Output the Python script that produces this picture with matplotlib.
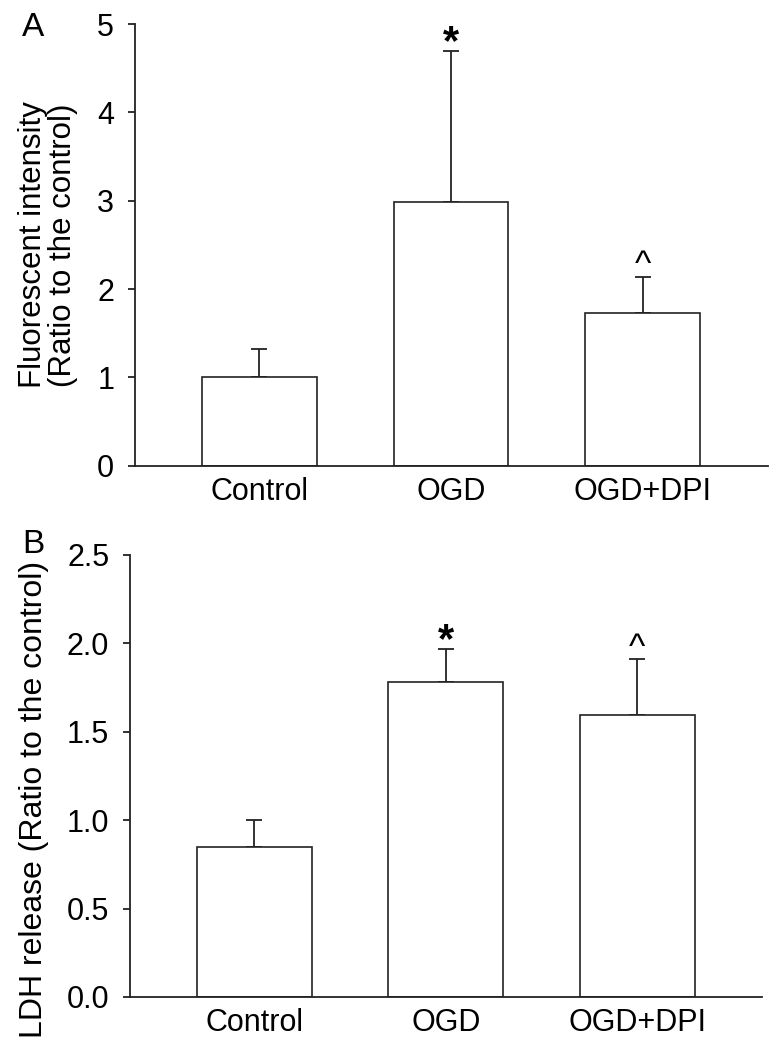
import matplotlib
matplotlib.use("Agg")
import matplotlib.pyplot as plt

plt.rcParams['font.family'] = ['Liberation Sans', 'DejaVu Sans']

groups = ["Control", "OGD", "OGD+DPI"]

# panel A: fluorescent intensity
fluor_mean = [1.00, 2.98, 1.73]
fluor_err = [0.32, 1.72, 0.41]
fluor_marks = ["", "*", "^"]

# panel B: LDH release
ldh_mean = [0.85, 1.78, 1.595]
ldh_err = [0.15, 0.19, 0.315]
ldh_marks = ["", "*", "^"]


def bar_panel(ax, means, errs, marks, yticks, ylim, fmt):
    x = range(len(groups))
    ax.bar(x, means, width=0.6, color="white", edgecolor="#222222",
           linewidth=1.2, zorder=2)
    ax.errorbar(x, means, yerr=[[0] * len(errs), errs], fmt="none",
                ecolor="#222222", elinewidth=1.3, capsize=6, capthick=1.3,
                zorder=1)
    span = ylim[1] - ylim[0]
    for xi, m, e, s in zip(x, means, errs, marks):
        if s == "*":
            ax.text(xi, m + e - 0.028 * span, s, ha="center", va="bottom",
                    fontsize=30, fontweight="bold")
        elif s == "^":
            ax.text(xi, m + e - 0.012 * span, s, ha="center", va="bottom",
                    fontsize=25)
    ax.set_xlim(-0.65, 2.655)
    ax.set_ylim(*ylim)
    ax.set_yticks(yticks)
    ax.set_yticklabels([fmt.format(t) for t in yticks])
    ax.set_xticks(list(x))
    ax.set_xticklabels(groups)
    for side in ["top", "right"]:
        ax.spines[side].set_visible(False)
    for side in ["left", "bottom"]:
        ax.spines[side].set_linewidth(1.3)
        ax.spines[side].set_color("#222222")
    ax.tick_params(axis="y", direction="out", length=5, width=1.3,
                   labelsize=22, pad=10, color="#222222")
    ax.tick_params(axis="x", length=0, labelsize=22, pad=8)


fig = plt.figure(figsize=(7.83, 10.5), dpi=100)

ax1 = fig.add_axes([0.1724, 0.5565, 0.8084, 0.4206])
bar_panel(ax1, fluor_mean, fluor_err, fluor_marks, [0, 1, 2, 3, 4, 5],
          (0, 5), "{:.0f}")
ax1.text(-0.138, 0.5, "Fluorescent intensity\n(Ratio to the control)",
         transform=ax1.transAxes, rotation=90, ha="center", va="center",
         fontsize=22.5, linespacing=1.0)
fig.text(0.028, 0.989, "A", fontsize=24, ha="left", va="top")

ax2 = fig.add_axes([0.166, 0.0505, 0.8078, 0.421])
bar_panel(ax2, ldh_mean, ldh_err, ldh_marks,
          [0, 0.5, 1.0, 1.5, 2.0, 2.5], (0, 2.5), "{:.1f}")
ax2.text(-0.152, 0.447, "LDH release (Ratio to the control)",
         transform=ax2.transAxes, rotation=90, ha="center", va="center",
         fontsize=23)
fig.text(0.028, 0.496, "B", fontsize=24, ha="left", va="top")

fig.savefig("out.png", dpi=100)
